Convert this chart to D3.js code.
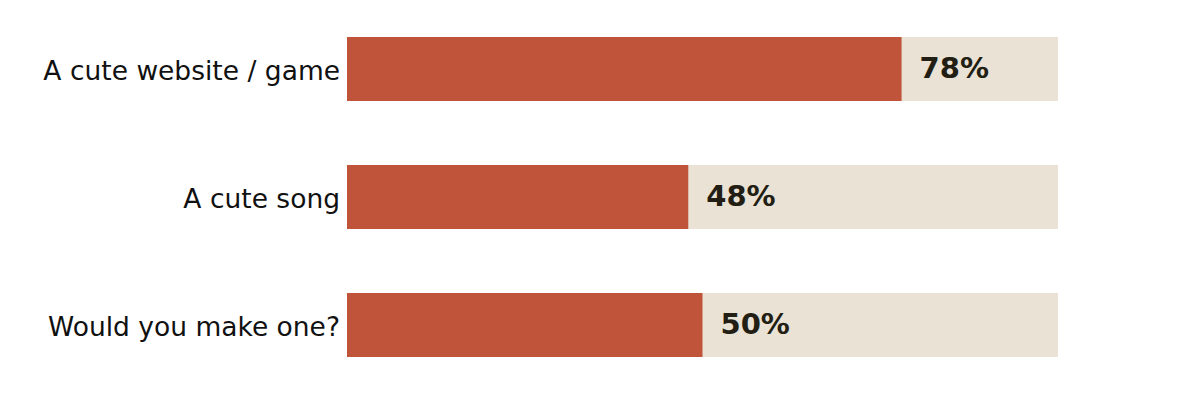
<!DOCTYPE html>
<html>
<head>
<meta charset="utf-8">
<script src="https://cdn.jsdelivr.net/npm/d3@7"></script>
<style>
  body { margin: 0; background: #fff; }
  svg { display: block; font-family: "DejaVu Sans", sans-serif; }
</style>
</head>
<body>
<svg id="chart" width="1200" height="416"></svg>
<script>
var categories = ["A cute website / game", "A cute song", "Would you make one?"];
var values = [78, 48, 50];
var maxValue = 100;

var width = 1200, height = 416;
var marge = {top: 37, bottom: 59, left: 347, right: 142};

var svg = d3.select("#chart");
var g = svg.append("g").attr("transform", "translate(" + marge.left + "," + marge.top + ")");

var x = d3.scaleLinear().domain([0, maxValue]).range([0, width - marge.left - marge.right]);
var y = d3.scaleBand().domain(categories).range([0, height - marge.top - marge.bottom]).paddingInner(0.5).paddingOuter(0);

// background track
g.selectAll(".track").data(categories).enter()
  .append("rect")
  .attr("class", "track")
  .attr("x", 0)
  .attr("y", function(d){ return y(d); })
  .attr("width", x(maxValue))
  .attr("height", y.bandwidth())
  .attr("fill", "#e9e2d5");

// value bar
g.selectAll(".bar").data(values).enter()
  .append("rect")
  .attr("class", "bar")
  .attr("x", 0)
  .attr("y", function(d, i){ return y(categories[i]); })
  .attr("width", function(d){ return x(d); })
  .attr("height", y.bandwidth())
  .attr("fill", "#c0543a");

// percent labels
g.selectAll(".pct").data(values).enter()
  .append("text")
  .attr("class", "pct")
  .attr("x", function(d){ return x(d) + 18; })
  .attr("y", function(d, i){ return y(categories[i]) + y.bandwidth() / 2; })
  .attr("dy", "0.3em")
  .attr("font-size", 29)
  .attr("font-weight", "bold")
  .attr("fill", "#231e14")
  .text(function(d){ return d + "%"; });

// category labels
g.selectAll(".cat").data(categories).enter()
  .append("text")
  .attr("class", "cat")
  .attr("x", -7)
  .attr("y", function(d){ return y(d) + y.bandwidth() / 2; })
  .attr("dy", "0.41em")
  .attr("text-anchor", "end")
  .attr("font-size", 26.5)
  .attr("fill", "#111")
  .text(function(d){ return d; });
</script>
</body>
</html>
